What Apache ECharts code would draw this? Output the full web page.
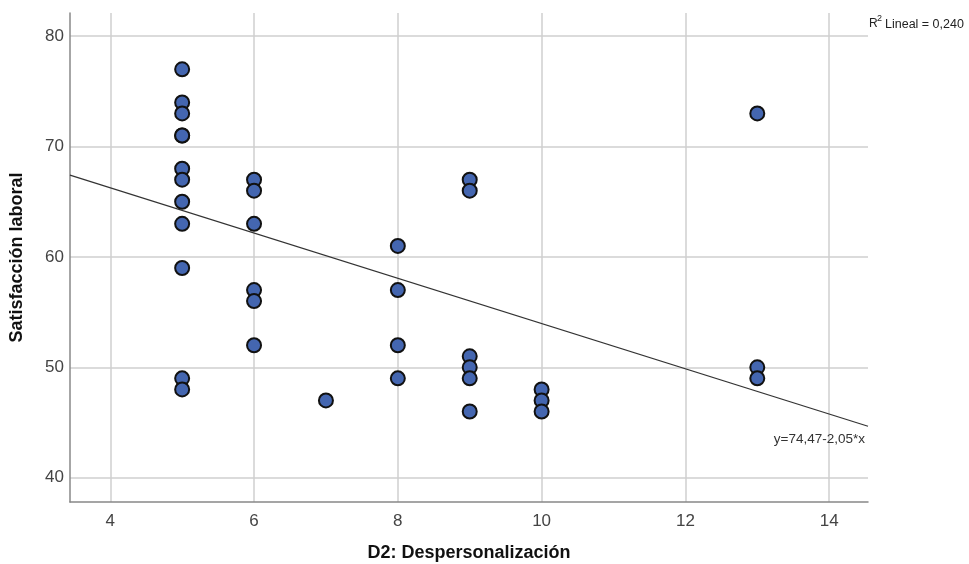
<!DOCTYPE html>
<html><head><meta charset="utf-8">
<script src="https://cdn.jsdelivr.net/npm/echarts@6/dist/echarts.min.js"></script>
<style>html,body{margin:0;padding:0;background:#fff}#c{width:969px;height:564px}</style>
</head><body><div id="c"></div>
<script>
const xValues = [5,5,5,5,5,5,5,5,5,5,5,5, 6,6,6,6,6,6, 7, 8,8,8,8, 9,9,9,9,9,9, 10,10,10, 13,13,13];
const yValues = [77,74,73,71,71,68,67,65,63,59,49,48, 67,66,63,57,56,52, 47, 61,57,52,49, 67,66,51,50,49,46, 48,47,46, 73,50,49];
const xTicks = [4,6,8,10,12,14];
const yTicks = [40,50,60,70,80];
const xRange = [3.44, 14.54];
const yRange = [37.8, 82.1];
const fitIntercept = 74.47;
const fitSlope = -2.05;
const r2Text = '0,240';
const eqText = 'y=74,47-2,05*x';

const points = xValues.map((x,i)=>[x,yValues[i]]);
const fitLine = xRange.map(x=>[x, fitIntercept + fitSlope*x]);

const chart = echarts.init(document.getElementById('c'));
const gridColor = '#cfcfcf';
const F = 'Liberation Sans';
chart.setOption({
  animation:false,
  backgroundColor:'#fff',
  grid:{left:70,right:101,top:13,bottom:62,containLabel:false,outerBoundsMode:'none'},
  xAxis:{type:'value',min:xRange[0],max:xRange[1],
    name:'D2: Despersonalización',nameLocation:'middle',nameGap:42,
    nameTextStyle:{fontFamily:F,fontSize:18,fontWeight:'bold',color:'#111'},
    axisLine:{show:true,lineStyle:{color:'#888',width:1.5}},
    axisTick:{show:false,customValues:xTicks},
    axisLabel:{customValues:xTicks,fontFamily:F,fontSize:17,color:'#444',margin:11},
    splitLine:{show:true,lineStyle:{color:gridColor,width:1.5}}},
  yAxis:{type:'value',min:yRange[0],max:yRange[1],
    name:'Satisfacción laboral',nameLocation:'middle',nameGap:44,
    nameTextStyle:{fontFamily:F,fontSize:18,fontWeight:'bold',color:'#111'},
    axisLine:{show:true,lineStyle:{color:'#888',width:1.5}},
    axisTick:{show:false,customValues:yTicks},
    axisLabel:{customValues:yTicks,fontFamily:F,fontSize:17,color:'#444',margin:6},
    splitLine:{show:true,lineStyle:{color:gridColor,width:1.5}}},
  series:[
    {type:'line',data:fitLine,symbol:'none',silent:true,z:3,
      lineStyle:{color:'#333',width:1.2},
      endLabel:{show:true,formatter:eqText,fontFamily:F,fontSize:13.5,color:'#333',
        align:'right',offset:[-3,13],distance:0}},
    {type:'scatter',data:points,symbol:'circle',symbolSize:14,z:4,
      itemStyle:{color:'#4466b0',borderColor:'#111',borderWidth:2,opacity:1}}
  ],
  graphic:[
    {type:'text',left:869,top:18,style:{text:'R',fontFamily:F,fontSize:12,fill:'#222'}},
    {type:'text',left:877,top:14,style:{text:'2',fontFamily:F,fontSize:9,fill:'#222'}},
    {type:'text',left:885,top:18,style:{text:'Lineal = '+r2Text,fontFamily:F,fontSize:12.5,fill:'#222'}}
  ]
});
</script></body></html>
